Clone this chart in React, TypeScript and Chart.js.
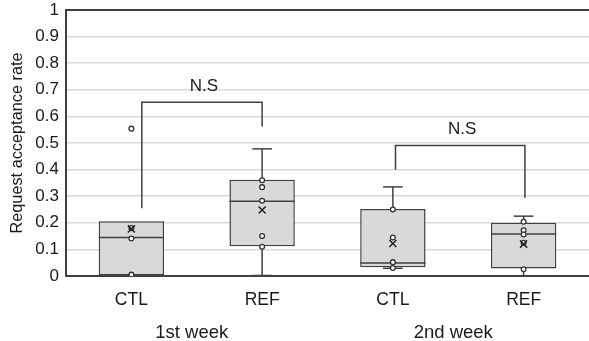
import React, { useEffect, useRef } from 'react';
import { Chart, registerables } from 'chart.js';

Chart.register(...registerables);

const groupLabels = ['CTL', 'REF', 'CTL', 'REF'];
const weekLabels = ['1st week', '2nd week'];
const yTickLabels = ['0', '0.1', '0.2', '0.3', '0.4', '0.5', '0.6', '0.7', '0.8', '0.9', '1'];

const q1 = [0.003, 0.112, 0.033, 0.028];
const medians = [0.145, 0.281, 0.049, 0.158];
const q3 = [0.206, 0.362, 0.252, 0.2];
const whiskerLow = [0.003, 0.002, 0.029, 0.001];
const whiskerHigh = [0.206, 0.478, 0.335, 0.225];
const means = [0.177, 0.248, 0.122, 0.12];

const ctl1Points = [0.554, 0.18, 0.141, 0.005];
const ref1Points = [0.36, 0.334, 0.283, 0.15, 0.11];
const ctl2Points = [0.25, 0.145, 0.052, 0.03];
const ref2Points = [0.204, 0.172, 0.156, 0.125, 0.025];

const bracketLeft = [0.08, 2.02];
const bracketRight = [1.0, 3.01];
const bracketLeftBottom = [0.255, 0.399];
const bracketRightBottom = [0.562, 0.293];
const bracketTop = [0.653, 0.491];
const bracketText = ['N.S', 'N.S'];

const FONT = "'Liberation Sans', Arial, sans-serif";
const LINE = '#404040';
const BOX_INDEX = 2;

const noSidePad = (s: any) => { s.paddingLeft = 0; s.paddingRight = 0; };

const boxPlugin = {
  id: 'boxExtras',
  afterDatasetDraw(chart: any, args: any) {
    if (args.index !== BOX_INDEX) return;
    const ctx = chart.ctx;
    const ys = chart.scales.y;
    const meta = chart.getDatasetMeta(BOX_INDEX);
    ctx.save();
    ctx.strokeStyle = LINE;
    ctx.lineWidth = 1.5;
    const seg = (x1: number, y1: number, x2: number, y2: number) => {
      ctx.beginPath();
      ctx.moveTo(x1, y1);
      ctx.lineTo(x2, y2);
      ctx.stroke();
    };
    meta.data.forEach((bar: any, i: number) => {
      const x = bar.x;
      const half = bar.width / 2;
      const cap = bar.width * 0.15;
      const ym = ys.getPixelForValue(medians[i]);
      seg(x - half, ym, x + half, ym);
      if (whiskerHigh[i] > q3[i]) {
        const yh = ys.getPixelForValue(whiskerHigh[i]);
        seg(x, ys.getPixelForValue(q3[i]), x, yh);
        seg(x - cap, yh, x + cap, yh);
      }
      if (whiskerLow[i] < q1[i]) {
        const yl = ys.getPixelForValue(whiskerLow[i]);
        seg(x, ys.getPixelForValue(q1[i]), x, yl);
        seg(x - cap, yl, x + cap, yl);
      }
    });
    ctx.restore();
  },
  afterDatasetsDraw(chart: any) {
    const ctx = chart.ctx;
    const xs = chart.scales.xp;
    const ys = chart.scales.y;
    ctx.save();
    ctx.strokeStyle = LINE;
    ctx.lineWidth = 1.5;
    ctx.fillStyle = '#1a1a1a';
    ctx.font = `17px ${FONT}`;
    ctx.textAlign = 'center';
    ctx.textBaseline = 'alphabetic';
    bracketText.forEach((t, i) => {
      const xl = xs.getPixelForValue(bracketLeft[i]);
      const xr = xs.getPixelForValue(bracketRight[i]);
      const yt = ys.getPixelForValue(bracketTop[i]);
      ctx.beginPath();
      ctx.moveTo(xl, ys.getPixelForValue(bracketLeftBottom[i]));
      ctx.lineTo(xl, yt);
      ctx.lineTo(xr, yt);
      ctx.lineTo(xr, ys.getPixelForValue(bracketRightBottom[i]));
      ctx.stroke();
      ctx.fillText(t, (xl + xr) / 2 + 2, yt - 11.5);
    });
    ctx.restore();
  },
};

export default function App() {
  const ref = useRef<HTMLCanvasElement>(null);
  useEffect(() => {
    if (!ref.current) return;
    const pointSets = [ctl1Points, ref1Points, ctl2Points, ref2Points];
    const pts: { x: number; y: number }[] = [];
    pointSets.forEach((arr, i) => arr.forEach((v) => pts.push({ x: i, y: v })));
    const chart = new Chart(ref.current, {
      type: 'bar',
      data: {
        labels: groupLabels,
        datasets: [
          {
            type: 'scatter',
            label: 'mean',
            data: means.map((v, i) => ({ x: i, y: v })),
            xAxisID: 'xp',
            yAxisID: 'y',
            pointStyle: 'crossRot',
            pointRadius: 5,
            borderColor: '#222',
            borderWidth: 1.5,
            order: 0,
          } as any,
          {
            type: 'scatter',
            label: 'points',
            data: pts,
            xAxisID: 'xp',
            yAxisID: 'y',
            pointStyle: 'circle',
            pointRadius: 2.4,
            backgroundColor: '#fff',
            borderColor: '#333',
            borderWidth: 1.3,
            order: 1,
          } as any,
          {
            type: 'bar',
            label: 'box',
            data: q1.map((v, i) => [v, q3[i]]),
            xAxisID: 'x',
            yAxisID: 'y',
            backgroundColor: '#d9d9d9',
            borderColor: LINE,
            borderWidth: 1.5,
            borderSkipped: false,
            grouped: false,
            barPercentage: 0.5,
            categoryPercentage: 1,
            order: 2,
          } as any,
        ],
      },
      options: {
        responsive: false,
        animation: false,
        layout: { autoPadding: false, padding: { top: 0, left: 0, bottom: 0, right: -1 } },
        plugins: { legend: { display: false }, tooltip: { enabled: false } },
        scales: {
          x: {
            type: 'category',
            offset: true,
            weight: 0,
            grid: { display: false, drawTicks: false },
            border: { display: true, color: LINE, width: 2 },
            ticks: { font: { family: FONT, size: 17.5 }, color: '#1a1a1a', padding: 14, maxRotation: 0 },
            afterFit: (s: any) => { s.height = 40; noSidePad(s); },
          },
          x2: {
            type: 'category',
            labels: weekLabels,
            position: 'bottom',
            offset: true,
            weight: 1,
            grid: { display: false, drawTicks: false },
            border: { display: false },
            ticks: { font: { family: FONT, size: 18.5 }, color: '#1a1a1a', padding: 6, maxRotation: 0, labelOffset: -5 },
            afterFit: (s: any) => { s.height = 25; noSidePad(s); },
          },
          xp: {
            type: 'linear',
            display: false,
            min: -0.5,
            max: 3.5,
            offset: false,
            grid: { offset: false },
            afterFit: (s: any) => { s.height = 0; noSidePad(s); },
          },
          y: {
            type: 'linear',
            min: 0,
            max: 1,
            grid: {
              color: (c: any) => (c.tick && c.tick.value === 1 ? LINE : '#dadada'),
              lineWidth: (c: any) => (c.tick && c.tick.value === 1 ? 2 : 1.5),
              drawTicks: false,
            },
            border: { display: true, color: LINE, width: 2 },
            ticks: {
              stepSize: 0.1,
              padding: 7,
              font: { family: FONT, size: 17 },
              color: '#1a1a1a',
              callback: (v: any) => yTickLabels[Math.round(Number(v) * 10)],
            },
            title: {
              display: true,
              text: 'Request acceptance rate',
              font: { family: FONT, size: 16.3 },
              color: '#1a1a1a',
              padding: { top: 8, bottom: 0 },
            },
            afterFit: (s: any) => { s.width = 66; s.paddingTop = 10; s.paddingBottom = 0; noSidePad(s); },
          },
        },
      },
      plugins: [boxPlugin],
    } as any);
    return () => chart.destroy();
  }, []);
  return (
    <div style={{ position: 'fixed', left: 0, top: 0, width: 589, height: 341, background: '#fff' }}>
      <canvas ref={ref} width={589} height={341} />
    </div>
  );
}
